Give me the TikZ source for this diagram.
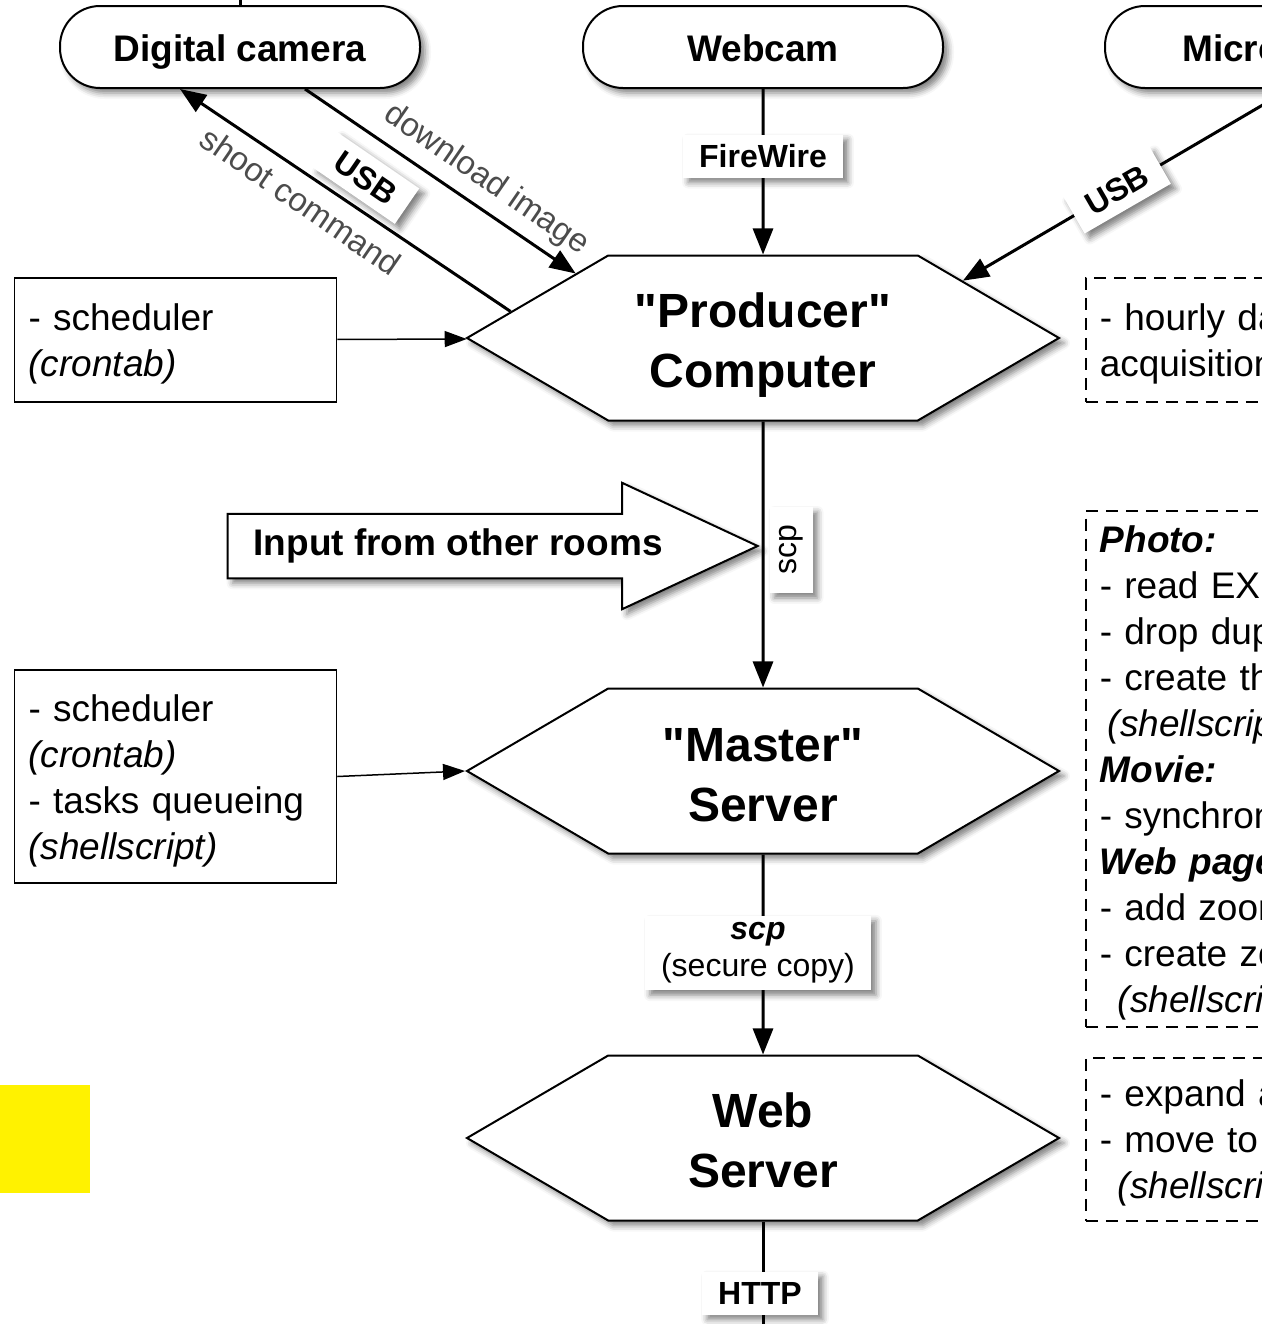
\documentclass[tikz,border=0pt]{standalone}
\usepackage{fontspec}
\setmainfont{Liberation Sans}[Ligatures=TeXOff]
\usetikzlibrary{shapes.symbols,shapes.arrows,shadows.blur,arrows.meta}

\begin{document}
\begin{tikzpicture}[x=0.5pt,y=-0.5pt]
\tikzstyle{softshadow}=[blur shadow={shadow xshift=2.5pt,shadow yshift=-2.5pt,shadow blur radius=3pt,shadow opacity=50}]
\tikzstyle{device}=[draw, line width=1pt, fill=white, rounded corners=20pt, minimum width=180pt, minimum height=41pt, text height=17pt, text depth=3pt, font=\fontsize{18.5}{22}\selectfont\bfseries, softshadow]
\tikzstyle{machine}=[draw, line width=1pt, fill=white, signal, signal to=east and west, signal pointer angle=60.6, minimum width=296pt, minimum height=82.5pt, align=center, font=\fontsize{24}{30}\selectfont\bfseries, softshadow]
\tikzstyle{tag}=[fill=white, inner xsep=8pt, minimum height=21.5pt, font=\fontsize{16}{18.5}\selectfont\bfseries, softshadow]
\tikzstyle{hint}=[text=black!70, font=\fontsize{16.5}{20}\selectfont]
\tikzstyle{note}=[draw, line width=0.75pt, text width=147pt, inner xsep=7pt, align=left, execute at begin node=\rule{0pt}{17.5pt}, font=\fontsize{18.5}{23}\selectfont]
\tikzstyle{todo}=[note, dash pattern=on 6pt off 4pt, text width=240pt, anchor=north west]
\tikzstyle{bigarrow}=[draw, line width=1pt, fill=white, single arrow, single arrow head extend=15.5pt, single arrow tip angle=50, minimum width=62.5pt, minimum height=265pt, inner ysep=7pt, inner xsep=4pt, font=\fontsize{18.5}{22}\selectfont\bfseries, softshadow]
\tikzstyle{flow}=[line width=1.5pt, -{Triangle[length=13pt,width=10pt]}]
\tikzstyle{feed}=[line width=0.75pt, -{Triangle[length=11pt,width=8pt]}]

\useasboundingbox (0,0) rectangle (1262,1324);
\clip (0,0) rectangle (1262,1324);

\node[device] (camera) at (240,47) {Digital camera};
\node[device] (webcam) at (763,47) {Webcam};
\node[device] (micro) at (1285,47) {Microscope};
\node[machine] (producer) at (763,338) {\rule{0pt}{24.5pt}"Producer"\\Computer};
\node[machine] (master) at (763,771) {\rule{0pt}{20.5pt}"Master"\\Server};
\node[machine] (websrv) at (763,1138) {\rule{0pt}{19.5pt}Web\\Server};
\node[note, minimum height=62pt] (sched1) at (175.5,340) {- scheduler\\\textit{(crontab)}};
\node[note, minimum height=106.5pt] (sched2) at (175.5,776.5) {- scheduler\\\textit{(crontab)}\\- tasks queueing\\\textit{(shellscript)}};
\node[todo, minimum height=62pt] (todo1) at (1085,277) {- hourly data\\acquisition};
\node[todo, minimum height=257.5pt] (todo2) at (1085,510) {\textbf{\textit{Photo:}}\\- read EXIF data\\- drop duplicates\\- create thumbnails\\\hspace*{4pt}\textit{(shellscript)}\\\textbf{\textit{Movie:}}\\- synchronize\\\textbf{\textit{Web page:}}\\- add zoom\\- create zoom\\\hspace*{9pt}\textit{(shellscript)}};
\node[todo, minimum height=81.5pt] (todo3) at (1085,1057) {- expand archive\\- move to web\\\hspace*{9pt}\textit{(shellscript)}};
\coordinate (top) at (240,-20);
\coordinate (bottom) at (763,1350);

\draw[line width=1.5pt] (camera) -- (camera |- top);
\draw[flow] ([xshift=32.5pt]camera.south) -- (producer.161);
\draw[flow] (producer.174) -- ([xshift=-30pt]camera.south);
\draw[flow] (webcam) -- (producer);
\draw[flow] ([xshift=2.5pt]micro.south) -- (producer.16);
\draw[feed] (sched1) -- (producer);
\draw[flow] (producer) -- (master);
\draw[feed] (sched2.east) -- (master.west);
\draw[flow] (master) -- (websrv);
\draw[line width=1.5pt] (websrv) -- (bottom);

\node[bigarrow, anchor=tip] (rooms) at (760,546) {Input from other rooms};
\node[hint, rotate=-34.5] (download) at (486,180) {download image};
\node[hint, rotate=-34.5] (shoot) at (301,201) {shoot command};
\node[tag] (fw) at (763,156) {FireWire};
\node[tag, rotate=-34.5] (usb1) at (366,178) {USB};
\node[tag, rotate=30] (usb2) at (1117,190) {USB};
\node[tag, rotate=90, inner xsep=9pt, font=\fontsize{16}{18.5}\selectfont] (scp1) at (791,550) {scp};
\node[tag, align=center, font=\fontsize{16}{18.5}\selectfont] (scp2) at (758,953) {\textbf{\textit{scp}}\\(secure copy)};
\node[tag] (http) at (760,1293) {HTTP};

\fill[yellow] (0,1085) rectangle (90,1193);
\end{tikzpicture}
\end{document}
